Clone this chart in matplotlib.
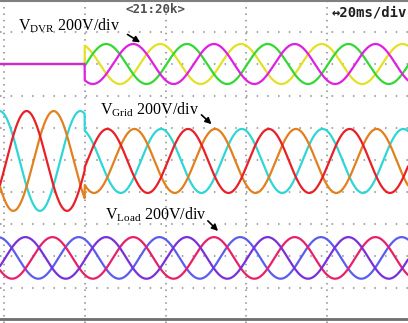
import numpy as np
import matplotlib.pyplot as plt

plt.rcParams['mathtext.fontset'] = 'custom'
plt.rcParams['mathtext.rm'] = 'Liberation Serif'

# scope settings
period_ms = 20.0          # 50 Hz, 20 ms/div
event_ms = 20.0           # DVR switches in at the first division
volts_per_div = 200.0

# peak times (ms, within one period) of the three phases of each trace
dvr_peaks = [18.7, 5.3, 12.0]
dvr_colors = ['#e4e026', '#33d833', '#e020e0']
dvr_amp_pre = [0, 0, 0]
dvr_amp_post = [125, 125, 125]
dvr_offset_div = 8.0

grid_peaks = [18.9, 12.3, 5.6]
grid_colors = ['#2fd6d6', '#e2801e', '#e82028']
grid_amp_pre = [312, 312, 312]
grid_amp_post = [200, 200, 200]
grid_offset_div = 4.97

load_peaks = [18.5, 12.0, 5.3]
load_colors = ['#5c5cf0', '#e8206a', '#7a30d8']
load_amp_pre = [130, 130, 130]
load_amp_post = [130, 130, 130]
load_offset_div = 1.94

t = np.linspace(-1.0, 100.1, 3000)


def draw_trace(ax, peaks, colors, amp_pre, amp_post, offset):
    for pk, c, a0, a1 in zip(peaks, colors, amp_pre, amp_post):
        amp = np.where(t < event_ms, a0, a1) / volts_per_div
        v = offset + amp * np.cos(2 * np.pi * (t - pk) / period_ms)
        ax.plot(t, v, color=c, lw=1.6, solid_capstyle='round')


fig = plt.figure(figsize=(4.08, 3.23), dpi=100)
ax = fig.add_axes([0, 0, 1, 1])
ax.set_xlim(-0.99, 100.06)
ax.set_ylim(-0.094, 10.0)

# dotted graticule
ax.set_xticks([0, 20, 40, 60, 80])
ax.set_yticks(np.arange(1, 10))
ax.xaxis.grid(True, color='#8a8a8a', lw=1.1, linestyle=(0, (1, 3.2)))
ax.yaxis.grid(True, color='#8a8a8a', lw=1.1, linestyle=(0, (1, 6.0)))
ax.tick_params(length=0, labelbottom=False, labelleft=False)
for s in ax.spines.values():
    s.set_visible(False)
ax.axhline(9.955, color='#808080', lw=1.5)
ax.axhline(0.03, color='#6e6e6e', lw=2.0)

draw_trace(ax, dvr_peaks, dvr_colors, dvr_amp_pre, dvr_amp_post, dvr_offset_div)
draw_trace(ax, grid_peaks, grid_colors, grid_amp_pre, grid_amp_post, grid_offset_div)
draw_trace(ax, load_peaks, load_colors, load_amp_pre, load_amp_post, load_offset_div)

# labels
lab = dict(family='Liberation Serif', fontsize=11.5, color='black', va='baseline')
ax.text(3.5, 9.03, r'$\mathregular{V_{DVR}}$ 200V/div', **lab)
ax.text(23.8, 6.42, r'$\mathregular{V_{Grid}}$ 200V/div', **lab)
ax.text(25.0, 3.13, r'$\mathregular{V_{Load}}$ 200V/div', **lab)
arr = dict(arrowstyle='-|>', color='black', lw=1.2, mutation_scale=9)
ax.annotate('', xy=(34.3, 8.63), xytext=(30.0, 8.97), arrowprops=arr)
ax.annotate('', xy=(51.9, 6.06), xytext=(48.4, 6.47), arrowprops=arr)
ax.annotate('', xy=(53.5, 2.72), xytext=(50.0, 3.16), arrowprops=arr)

ax.text(37.6, 9.69, '<21:20k>', family='DejaVu Sans Mono', fontsize=9,
        fontweight='bold', color='#505050', ha='center', va='center')
ax.text(99.8, 9.62, '\u219420ms/div', family=['DejaVu Sans Mono', 'DejaVu Sans'],
        fontsize=10, fontweight='bold', color='#202020', ha='right', va='center')

fig.savefig('out.png', dpi=100)
